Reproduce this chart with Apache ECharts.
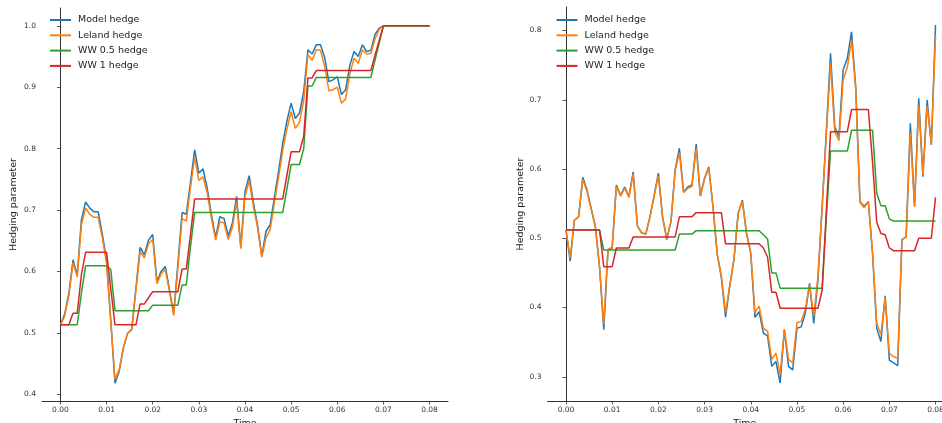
<!DOCTYPE html>
<html>
<head>
<meta charset="utf-8">
<script src="https://cdn.jsdelivr.net/npm/echarts@6/dist/echarts.min.js"></script>
<style>
html,body{margin:0;padding:0;background:#fff;}
#chart{width:942px;height:423px;}
</style>
</head>
<body>
<div id="chart"></div>
<script>
// sampling grid: 89 equally spaced times from 0 to 0.08
const T_END = 0.08, N_STEPS = 88;
const time = Array.from({length: N_STEPS + 1}, (_, i) => i * T_END / N_STEPS);

const seriesNames = ['Model hedge', 'Leland hedge', 'WW 0.5 hedge', 'WW 1 hedge'];
const xTicks = [0, 0.01, 0.02, 0.03, 0.04, 0.05, 0.06, 0.07, 0.08];
const leftYTicks = [0.4, 0.5, 0.6, 0.7, 0.8, 0.9, 1.0];
const rightYTicks = [0.3, 0.4, 0.5, 0.6, 0.7, 0.8];

const leftModel = [0.513,0.530,0.564,0.619,0.594,0.684,0.713,0.703,0.697,0.697,
0.660,0.618,0.520,0.418,0.437,0.475,0.499,0.506,0.573,0.639,
0.627,0.651,0.660,0.583,0.600,0.608,0.570,0.531,0.613,0.696,
0.693,0.745,0.798,0.760,0.767,0.735,0.692,0.655,0.689,0.686,
0.658,0.679,0.722,0.640,0.730,0.756,0.712,0.675,0.625,0.665,
0.676,0.720,0.763,0.809,0.845,0.874,0.849,0.858,0.893,0.961,
0.954,0.969,0.969,0.948,0.909,0.912,0.917,0.888,0.896,0.936,
0.958,0.950,0.969,0.958,0.960,0.986,0.996,1.0,1.0,1.0,
1.0,1.0,1.0,1.0,1.0,1.0,1.0,1.0,1.0];

const leftLeland = [0.513,0.527,0.560,0.614,0.591,0.676,0.703,0.693,0.688,0.688,
0.654,0.612,0.518,0.424,0.440,0.476,0.499,0.506,0.570,0.632,
0.622,0.645,0.652,0.580,0.596,0.603,0.567,0.528,0.606,0.686,
0.682,0.736,0.786,0.748,0.754,0.728,0.686,0.651,0.681,0.679,
0.652,0.672,0.714,0.637,0.722,0.748,0.706,0.671,0.623,0.655,
0.668,0.711,0.753,0.797,0.832,0.860,0.833,0.843,0.878,0.953,
0.944,0.961,0.960,0.934,0.894,0.896,0.900,0.874,0.881,0.922,
0.947,0.939,0.961,0.954,0.955,0.979,0.994,1.0,1.0,1.0,
1.0,1.0,1.0,1.0,1.0,1.0,1.0,1.0,1.0];

const leftWW05 = [0.513,0.513,0.513,0.513,0.513,0.565,0.609,0.609,0.609,0.609,
0.609,0.609,0.603,0.536,0.536,0.536,0.536,0.536,0.536,0.536,
0.536,0.536,0.545,0.545,0.545,0.545,0.545,0.545,0.545,0.578,
0.578,0.640,0.696,0.696,0.696,0.696,0.696,0.696,0.696,0.696,
0.696,0.696,0.696,0.696,0.696,0.696,0.696,0.696,0.696,0.696,
0.696,0.696,0.696,0.696,0.735,0.774,0.774,0.774,0.800,0.902,
0.902,0.916,0.916,0.916,0.916,0.916,0.916,0.916,0.916,0.916,
0.916,0.916,0.916,0.916,0.916,0.944,0.972,1.0,1.0,1.0,
1.0,1.0,1.0,1.0,1.0,1.0,1.0,1.0,1.0];

const leftWW1 = [0.513,0.513,0.513,0.532,0.532,0.595,0.631,0.631,0.631,0.631,
0.631,0.631,0.572,0.513,0.513,0.513,0.513,0.513,0.513,0.547,
0.547,0.557,0.567,0.567,0.567,0.567,0.567,0.567,0.567,0.604,
0.604,0.660,0.718,0.718,0.718,0.718,0.718,0.718,0.718,0.718,
0.718,0.718,0.718,0.718,0.718,0.718,0.718,0.718,0.718,0.718,
0.718,0.718,0.718,0.718,0.757,0.795,0.795,0.795,0.820,0.915,
0.915,0.927,0.927,0.927,0.927,0.927,0.927,0.927,0.927,0.927,
0.927,0.927,0.927,0.927,0.927,0.952,0.976,1.0,1.0,1.0,
1.0,1.0,1.0,1.0,1.0,1.0,1.0,1.0,1.0];

const rightModel = [0.512,0.467,0.526,0.531,0.588,0.570,0.543,0.517,0.458,0.368,
0.483,0.486,0.577,0.562,0.574,0.560,0.596,0.518,0.508,0.506,
0.531,0.562,0.594,0.531,0.498,0.524,0.599,0.630,0.567,0.574,
0.577,0.636,0.561,0.587,0.603,0.546,0.478,0.443,0.386,0.431,
0.469,0.536,0.555,0.507,0.478,0.386,0.394,0.363,0.359,0.315,
0.322,0.291,0.368,0.315,0.310,0.370,0.372,0.392,0.435,0.377,
0.440,0.545,0.655,0.767,0.661,0.647,0.743,0.760,0.798,0.718,
0.553,0.546,0.553,0.478,0.370,0.351,0.417,0.324,0.320,0.316,
0.498,0.502,0.666,0.546,0.702,0.589,0.700,0.635,0.808];

const rightLeland = [0.512,0.472,0.526,0.531,0.585,0.568,0.542,0.516,0.458,0.376,
0.484,0.487,0.575,0.561,0.572,0.559,0.593,0.518,0.508,0.506,
0.531,0.561,0.590,0.531,0.500,0.524,0.597,0.624,0.566,0.572,
0.575,0.630,0.561,0.586,0.601,0.546,0.478,0.446,0.393,0.432,
0.470,0.536,0.553,0.507,0.480,0.393,0.402,0.370,0.366,0.325,
0.334,0.303,0.368,0.325,0.320,0.378,0.380,0.398,0.433,0.387,
0.445,0.545,0.650,0.753,0.654,0.641,0.729,0.747,0.786,0.715,
0.552,0.544,0.553,0.480,0.377,0.361,0.415,0.334,0.329,0.327,
0.498,0.502,0.652,0.546,0.692,0.591,0.691,0.635,0.793];

const rightWW05 = [0.512,0.512,0.512,0.512,0.512,0.512,0.512,0.512,0.512,0.483,
0.483,0.483,0.483,0.483,0.483,0.483,0.483,0.483,0.483,0.483,
0.483,0.483,0.483,0.483,0.483,0.483,0.483,0.506,0.506,0.506,
0.506,0.511,0.511,0.511,0.511,0.511,0.511,0.511,0.511,0.511,
0.511,0.511,0.511,0.511,0.511,0.511,0.511,0.505,0.499,0.450,
0.450,0.428,0.428,0.428,0.428,0.428,0.428,0.428,0.428,0.428,
0.428,0.428,0.530,0.626,0.626,0.626,0.626,0.626,0.656,0.656,
0.656,0.656,0.656,0.656,0.565,0.547,0.547,0.528,0.525,0.525,
0.525,0.525,0.525,0.525,0.525,0.525,0.525,0.525,0.525];

const rightWW1 = [0.512,0.512,0.512,0.512,0.512,0.512,0.512,0.512,0.512,0.459,
0.459,0.459,0.486,0.486,0.486,0.486,0.502,0.502,0.502,0.502,
0.502,0.502,0.502,0.502,0.502,0.502,0.502,0.531,0.531,0.531,
0.531,0.537,0.537,0.537,0.537,0.537,0.537,0.537,0.492,0.492,
0.492,0.492,0.492,0.492,0.492,0.492,0.492,0.486,0.473,0.422,
0.422,0.399,0.399,0.399,0.399,0.399,0.399,0.399,0.399,0.399,
0.399,0.425,0.540,0.654,0.654,0.654,0.654,0.654,0.686,0.686,
0.686,0.686,0.686,0.610,0.523,0.507,0.505,0.486,0.482,0.482,
0.482,0.482,0.482,0.482,0.500,0.500,0.500,0.500,0.559];

const colors = ['#1f77b4', '#ff7f0e', '#2ca02c', '#d62728'];
const panels = [
  [leftModel, leftLeland, leftWW05, leftWW1],
  [rightModel, rightLeland, rightWW05, rightWW1]
];

const FONT = 'DejaVu Sans';
const axisColor = '#333';

function xAxisFor(idx, max) {
  return {
    type: 'value', gridIndex: idx, min: -0.004, max: max,
    axisLine: {show: true, lineStyle: {color: axisColor, width: 1}},
    axisTick: {show: true, length: 3.5, lineStyle: {color: axisColor, width: 0.8}, customValues: xTicks},
    axisLabel: {customValues: xTicks, formatter: v => v.toFixed(2), fontFamily: FONT, fontSize: 7.5, color: axisColor, margin: 5},
    splitLine: {show: false},
    name: 'Time', nameLocation: 'middle', nameGap: 17,
    nameTextStyle: {fontFamily: FONT, fontSize: 9.5, color: '#222'}
  };
}
function yAxisFor(idx, min, max, ticks, gap) {
  return {
    type: 'value', gridIndex: idx, min: min, max: max,
    axisLine: {show: true, lineStyle: {color: axisColor, width: 1}},
    axisTick: {show: true, length: 3.5, lineStyle: {color: axisColor, width: 0.8}, customValues: ticks},
    axisLabel: {customValues: ticks, formatter: v => v.toFixed(1), fontFamily: FONT, fontSize: 7.5, color: axisColor, margin: 6},
    splitLine: {show: false},
    name: 'Hedging parameter', nameLocation: 'middle', nameGap: gap, nameRotate: 90,
    nameTextStyle: {fontFamily: FONT, fontSize: 9.5, color: '#222'}
  };
}

const series = [];
panels.forEach((arrs, p) => {
  arrs.forEach((arr, k) => {
    series.push({
      name: seriesNames[k], type: 'line', xAxisIndex: p, yAxisIndex: p,
      data: time.map((t, i) => [t, arr[i]]),
      symbol: 'none', showSymbol: false, smooth: false,
      lineStyle: {color: colors[k], width: 1.5},
      itemStyle: {color: colors[k]},
      z: 2 + k
    });
  });
});

function legendFor(left) {
  return {
    orient: 'vertical', left: left, top: 14, padding: 0,
    itemWidth: 21, itemHeight: 2, itemGap: 3.3,
    data: seriesNames.map(n => ({name: n, icon: 'rect'})),
    textStyle: {fontFamily: FONT, fontSize: 9.5, color: '#222', lineHeight: 12, padding: [0, 0, 0, 2]}
  };
}

const chart = echarts.init(document.getElementById('chart'), null, {renderer: 'canvas'});
chart.setOption({
  animation: false,
  backgroundColor: '#fff',
  color: colors,
  grid: [
    {left: 42, top: 8, width: 406, height: 393, outerBoundsMode: 'none', containLabel: false},
    {left: 547.5, top: 7, width: 394.5, height: 394, outerBoundsMode: 'none', containLabel: false}
  ],
  xAxis: [xAxisFor(0, 0.084), xAxisFor(1, 0.0814)],
  yAxis: [yAxisFor(0, 0.3889, 1.029, leftYTicks, 23), yAxisFor(1, 0.265, 0.834, rightYTicks, 22)],
  legend: [legendFor(50), legendFor(556.5)],
  series: series
});
</script>
</body>
</html>
